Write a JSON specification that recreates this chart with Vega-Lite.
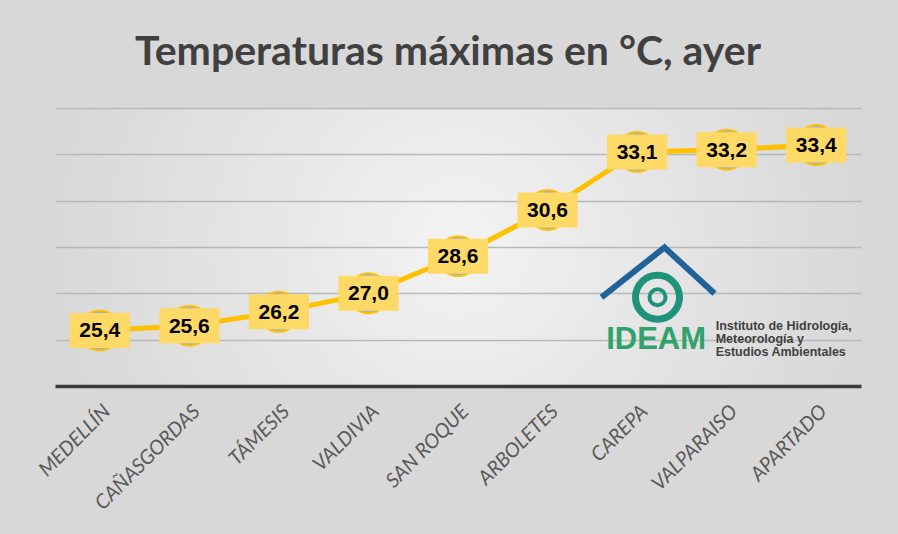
{
  "$schema": "https://vega.github.io/schema/vega-lite/v6.json",
  "width": 806,
  "height": 278,
  "autosize": {"type": "none"},
  "padding": {"left": 55, "top": 108, "right": 37, "bottom": 148},
  "background": "#d8d8d8",
  "title": {
    "text": "Temperaturas máximas en °C, ayer",
    "font": "Lato",
    "fontSize": 41,
    "fontWeight": "bold",
    "color": "#404040",
    "anchor": "middle",
    "baseline": "alphabetic",
    "offset": 2,
    "dx": -10
  },
  "data": {
    "values": [
      {"estacion": "MEDELLÍN", "temp": 25.4},
      {"estacion": "CAÑASGORDAS", "temp": 25.6},
      {"estacion": "TÁMESIS", "temp": 26.2},
      {"estacion": "VALDIVIA", "temp": 27.0},
      {"estacion": "SAN ROQUE", "temp": 28.6},
      {"estacion": "ARBOLETES", "temp": 30.6},
      {"estacion": "CAREPA", "temp": 33.1},
      {"estacion": "VALPARAISO", "temp": 33.2},
      {"estacion": "APARTADO", "temp": 33.4}
    ]
  },
  "encoding": {
    "x": {
      "field": "estacion",
      "type": "nominal",
      "sort": null,
      "scale": {"type": "point", "padding": 0.5},
      "axis": {
        "title": null,
        "ticks": false,
        "grid": false,
        "labelAngle": -45,
        "labelFont": "Lato",
        "labelFontStyle": "italic",
        "labelFontSize": 20,
        "labelColor": "#595959",
        "labelPadding": 15,
        "domainColor": "#3a3a3a",
        "domainWidth": 3.5
      }
    },
    "y": {
      "field": "temp",
      "type": "quantitative",
      "scale": {"domain": [23, 35], "nice": false, "zero": false},
      "axis": {
        "title": null,
        "labels": false,
        "ticks": false,
        "domain": false,
        "grid": true,
        "values": [25, 27, 29, 31, 33, 35],
        "gridColor": "#b8b8b8",
        "gridWidth": 1.5
      }
    }
  },
  "layer": [
    {
      "mark": {"type": "line", "color": "#ffc000", "strokeWidth": 5}
    },
    {
      "mark": {"type": "point", "shape": "circle", "filled": true, "size": 1600, "fill": "#a7b0b8", "stroke": "#ffc000", "strokeWidth": 2, "opacity": 1}
    },
    {
      "mark": {"type": "point", "shape": "M-1.72,-1H1.72V1H-1.72Z", "filled": true, "size": 1225, "fill": "#ffd966", "strokeWidth": 0, "opacity": 1}
    },
    {
      "mark": {"type": "text", "font": "Liberation Sans", "fontWeight": "bold", "fontSize": 21, "color": "#000000", "baseline": "middle", "align": "center", "dy": 1},
      "encoding": {"text": {"field": "temp", "type": "quantitative", "format": ".1f"}}
    },
    {
      "transform": [{"filter": "datum.estacion == 'CAREPA'"}],
      "mark": {"type": "point", "shape": "M-0.609,0.427L0.468,-0.427L1.323,0.359", "filled": false, "size": 13689, "stroke": "#1f6398", "strokeWidth": 6, "opacity": 1},
      "encoding": {"y": {"datum": 27.9}}
    },
    {
      "transform": [{"filter": "datum.estacion == 'CAREPA'"}],
      "mark": {"type": "point", "shape": "M1.927,0A1,1 0 1,1 -0.073,0A1,1 0 1,1 1.927,0Z", "filled": false, "size": 1936, "stroke": "#1f927c", "strokeWidth": 7, "opacity": 1},
      "encoding": {"y": {"datum": 26.83}}
    },
    {
      "transform": [{"filter": "datum.estacion == 'CAREPA'"}],
      "mark": {"type": "point", "shape": "M3.55,0A1,1 0 1,1 1.55,0A1,1 0 1,1 3.55,0Z", "filled": false, "size": 256, "stroke": "#1f927c", "strokeWidth": 4, "opacity": 1},
      "encoding": {"y": {"datum": 26.83}}
    },
    {
      "transform": [{"filter": "datum.estacion == 'CAREPA'"}],
      "mark": {"type": "text", "text": "IDEAM", "font": "Liberation Sans", "fontWeight": "bold", "fontSize": 31, "color": "#2fa36b", "align": "center", "baseline": "middle", "dx": 19},
      "encoding": {"y": {"datum": 25.0}}
    },
    {
      "transform": [{"filter": "datum.estacion == 'VALPARAISO'"}],
      "mark": {"type": "text", "text": ["Instituto de Hidrología,", "Meteorología y", "Estudios Ambientales"], "font": "Liberation Sans", "fontSize": 12.5, "fontWeight": "bold", "color": "#404040", "align": "left", "baseline": "top", "lineHeight": 13, "dx": -11},
      "encoding": {"y": {"datum": 25.85}}
    }
  ],
  "config": {
    "view": {
      "stroke": null,
      "fill": {
        "gradient": "radial",
        "x1": 0.5, "y1": 0.5, "r1": 0,
        "x2": 0.5, "y2": 0.5, "r2": 0.5,
        "stops": [
          {"offset": 0, "color": "#f3f3f3"},
          {"offset": 1, "color": "#d8d8d8"}
        ]
      }
    },
    "locale": {"number": {"decimal": ",", "thousands": ".", "grouping": [3], "currency": ["", " €"]}}
  }
}
